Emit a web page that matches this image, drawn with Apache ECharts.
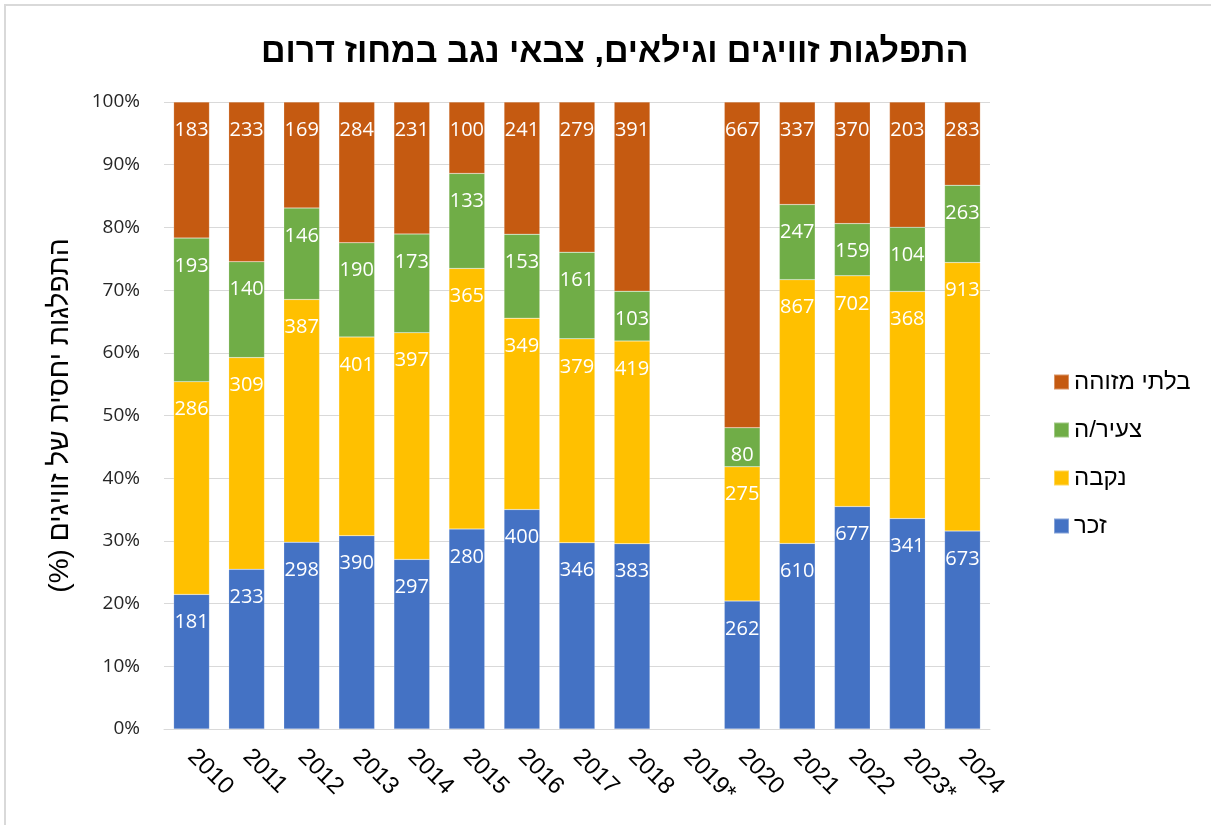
<!DOCTYPE html>
<html>
<head>
<meta charset="utf-8">
<script src="https://cdn.jsdelivr.net/npm/echarts@6/dist/echarts.min.js"></script>
<style>
html,body{margin:0;padding:0;background:#fff;}
#chart{width:1211px;height:825px;}
</style>
</head>
<body>
<div id="chart"></div>
<script>
const categories = ['2010','2011','2012','2013','2014','2015','2016','2017','2018','2019*','2020','2021','2022','2023*','2024'];
const seriesNames = ['זכר','נקבה','צעיר/ה','בלתי מזוהה'];
const male    = [181,233,298,390,297,280,400,346,383,null,262,610,677,341,673];
const female  = [286,309,387,401,397,365,349,379,419,null,275,867,702,368,913];
const young   = [193,140,146,190,173,133,153,161,103,null, 80,247,159,104,263];
const unknown = [183,233,169,284,231,100,241,279,391,null,667,337,370,203,283];
const yTicks = [0,10,20,30,40,50,60,70,80,90,100];
const colors = ['#4472C4','#FFC000','#70AD47','#C55A11'];

const counts = [male, female, young, unknown];
const totals = categories.map((c,i)=>{
  if (male[i]==null) return null;
  return male[i]+female[i]+young[i]+unknown[i];
});

const series = counts.map((arr, k) => ({
  name: seriesNames[k],
  type: 'bar',
  stack: 'total',
  barCategoryGap: '35%',
  itemStyle: {color: colors[k], borderColor: 'rgba(255,255,255,0.35)', borderWidth: 0.5},
  label: {
    show: true,
    position: 'insideTop',
    distance: 18,
    color: '#fff',
    fontFamily: 'Open Sans',
    fontSize: 20,
    formatter: p => (arr[p.dataIndex]==null ? '' : String(arr[p.dataIndex]))
  },
  data: arr.map((v,i)=> v==null ? null : v / totals[i] * 100)
}));

const chart = echarts.init(document.getElementById('chart'), null, {renderer:'canvas'});
chart.setOption({
  animation: false,
  backgroundColor: '#fff',
  title: {
    text: 'התפלגות זוויגים וגילאים, צבאי נגב במחוז דרום',
    left: 256,
    top: 31,
    textStyle: {fontFamily: 'Liberation Sans', fontWeight: 'bold', fontSize: 34, color: '#000'}
  },
  graphic: [{
    type: 'rect',
    shape: {x: 5, y: 5, width: 1400, height: 1000},
    style: {fill: 'none', stroke: '#d9d9d9', lineWidth: 2},
    silent: true, z: -1
  }],
  legend: {
    orient: 'vertical',
    left: 1048,
    top: 365,
    itemWidth: 15,
    itemHeight: 15,
    itemGap: 24,
    icon: 'rect',
    data: ['בלתי מזוהה','צעיר/ה','נקבה','זכר'],
    textStyle: {fontFamily: 'Liberation Sans', fontSize: 24, color: '#000'}
  },
  grid: {left: 164, right: 221, top: 102, bottom: 96, containLabel: false},
  xAxis: {
    type: 'category',
    data: categories,
    axisLine: {lineStyle: {color: '#d9d9d9', width: 1}},
    axisTick: {show: false},
    axisLabel: {interval: 0, rotate: -45, margin: 24, fontFamily: 'Liberation Sans', fontSize: 24, color: '#000'}
  },
  yAxis: {
    type: 'value',
    min: yTicks[0],
    max: yTicks[yTicks.length-1],
    interval: yTicks[1]-yTicks[0],
    name: 'התפלגות יחסית של זוויגים (%)\u200F',
    nameLocation: 'middle',
    nameGap: 90,
    nameTextStyle: {fontFamily: 'Liberation Sans', fontSize: 28, color: '#000'},
    axisLine: {show: false},
    axisTick: {show: false},
    splitLine: {lineStyle: {color: '#d9d9d9', width: 1}},
    axisLabel: {formatter: '{value}%', margin: 24, fontFamily: 'Open Sans', fontSize: 19, color: '#262626'}
  },
  series: series
});
</script>
</body>
</html>
